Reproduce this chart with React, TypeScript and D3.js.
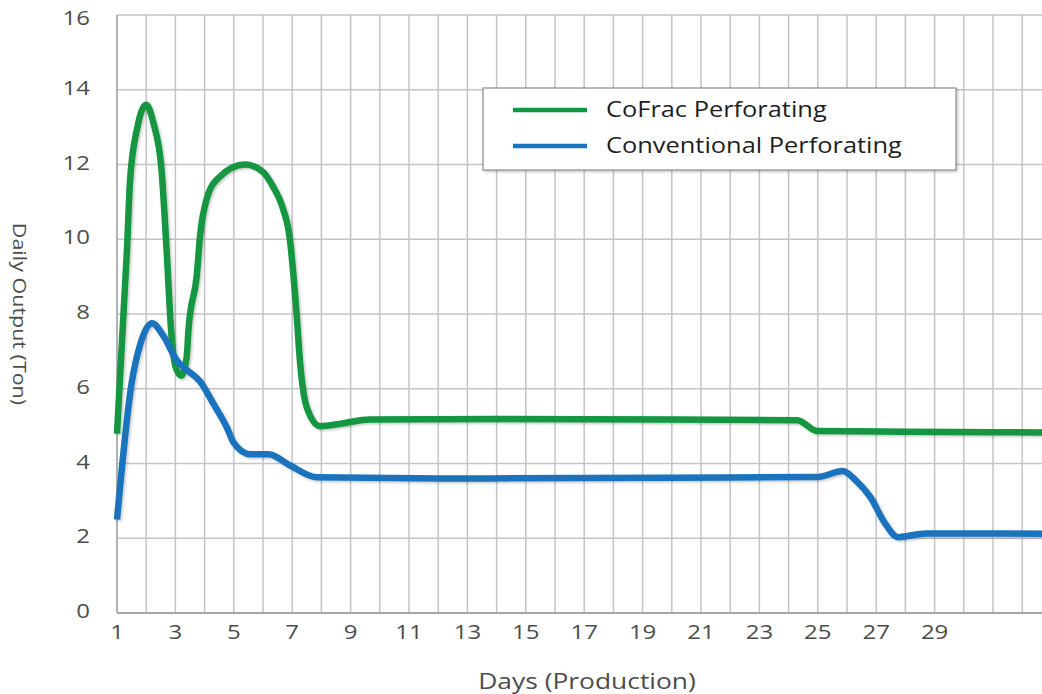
import React from "react";
import * as d3 from "d3";

// days (x) and daily output (ton)
const cofracDays = [1, 1.34, 1.45, 1.7, 2.0, 2.25, 2.52, 2.7, 2.85, 3.0, 3.2, 3.38, 3.45, 3.74, 3.84, 4.08, 4.5, 5.38, 6.0, 6.35, 6.65, 6.92, 7.15, 7.27, 7.5, 7.95, 8.7, 9.65, 14, 20, 24.3, 24.97, 28, 33];
const cofracValues = [4.8, 9.7, 11.6, 13.0, 13.6, 13.1, 11.9, 9.7, 7.6, 6.6, 6.35, 6.8, 7.6, 9.1, 10.05, 11.1, 11.66, 12.0, 11.8, 11.4, 10.9, 10.0, 8.0, 6.7, 5.5, 5.0, 5.07, 5.18, 5.19, 5.18, 5.16, 4.87, 4.85, 4.83];

const convDays = [1, 1.5, 1.8, 2.2, 2.6, 3.05, 3.4, 3.84, 4.3, 4.77, 5.0, 5.55, 6.2, 6.9, 7.85, 12, 20, 25, 25.85, 26.3, 26.8, 27.3, 27.75, 28.7, 33];
const convValues = [2.5, 6.15, 7.2, 7.75, 7.4, 6.76, 6.5, 6.2, 5.6, 4.95, 4.55, 4.25, 4.25, 3.96, 3.63, 3.6, 3.62, 3.64, 3.8, 3.55, 3.1, 2.4, 2.03, 2.13, 2.12];

const xTickLabels = [1, 3, 5, 7, 9, 11, 13, 15, 17, 19, 21, 23, 25, 27, 29];
const yTickLabels = [0, 2, 4, 6, 8, 10, 12, 14, 16];

const seriesNames = ["CoFrac Perforating", "Conventional Perforating"];
const seriesColors = ["#12963f", "#1a73bd"];

const W = 1042;
const H = 694;
// the picture's lettering is a bit wider than Open Sans
const STRETCH = 1.2;

const App = () => {
    const x = d3.scaleLinear().domain([1, 33]).range([117, 1051.4]);
    const y = d3.scaleLinear().domain([0, 16]).range([613, 15]);

    const line = d3.line<[number, number]>()
        .x(d => x(d[0]))
        .y(d => y(d[1]))
        .curve(d3.curveMonotoneX);

    const cofrac = cofracDays.map((d, i) => [d, cofracValues[i]] as [number, number]);
    const conv = convDays.map((d, i) => [d, convValues[i]] as [number, number]);

    const font = "'Open Sans', 'Noto Sans', sans-serif";
    const gridDays = d3.range(1, 34);
    const at = (px: number, py: number, k = STRETCH) => `translate(${px},${py}) scale(${k},1)`;

    return (
        <svg width={W} height={H} style={{position: "absolute", left: 0, top: 0, background: "#fff"}}>
            <defs>
                <filter id="shadow" x="-5%" y="-5%" width="110%" height="110%">
                    <feDropShadow dx="1.5" dy="1.5" stdDeviation="1.2" floodColor="#000" floodOpacity="0.22"/>
                </filter>
            </defs>

            {/* grid */}
            <g stroke="#c3c3ca" strokeWidth={1.5}>
                {gridDays.map(d => (
                    <line key={"v" + d} x1={x(d)} x2={x(d)} y1={y(16)} y2={y(0)}/>
                ))}
                {yTickLabels.filter(v => v > 0).map(v => (
                    <line key={"h" + v} x1={x(1)} x2={W} y1={y(v)} y2={y(v)}/>
                ))}
            </g>
            <line x1={x(1)} x2={W} y1={y(0)} y2={y(0)} stroke="#a6a6ae" strokeWidth={2}/>
            <line x1={x(1)} x2={x(1)} y1={y(16)} y2={y(0)} stroke="#a6a6ae" strokeWidth={1.5}/>

            {/* ticks */}
            <g fontFamily={font} fontSize={20} fill="#4d4d4d">
                {yTickLabels.map(v => (
                    <text key={v} transform={at(90, Math.max(y(v) - 2, 18))} dy="0.35em" textAnchor="end">{v}</text>
                ))}
                {xTickLabels.map(v => (
                    <text key={v} transform={at(x(v), 639)} textAnchor="middle">{v}</text>
                ))}
            </g>

            {/* series */}
            <g fill="none" strokeWidth={6.5} strokeLinejoin="round" strokeLinecap="butt" filter="url(#shadow)">
                <path d={line(cofrac) || ""} stroke={seriesColors[0]}/>
                <path d={line(conv) || ""} stroke={seriesColors[1]}/>
            </g>

            {/* titles */}
            <text transform={at(587, 689)} textAnchor="middle" fontFamily={font} fontSize={22} fill="#4d4d4d">Days (Production)</text>
            <text transform="translate(13,314) rotate(90) scale(1.13,1)" textAnchor="middle" fontFamily={font} fontSize={19} fill="#4d4d4d">Daily Output (Ton)</text>

            {/* legend */}
            <g filter="url(#shadow)">
                <rect x={483} y={88} width={473} height={82} fill="#fff" stroke="#8a8a8a" strokeWidth={1.2}/>
            </g>
            {seriesNames.map((name, i) => (
                <g key={name}>
                    <line x1={513} x2={587} y1={110 + i * 36} y2={110 + i * 36} stroke={seriesColors[i]} strokeWidth={4.5}/>
                    <text transform={at(606, 110 + i * 36, 1.21)} dy="0.35em" fontFamily={font} fontSize={21} fill="#1e1e1e">{name}</text>
                </g>
            ))}
        </svg>
    );
};

export default App;
